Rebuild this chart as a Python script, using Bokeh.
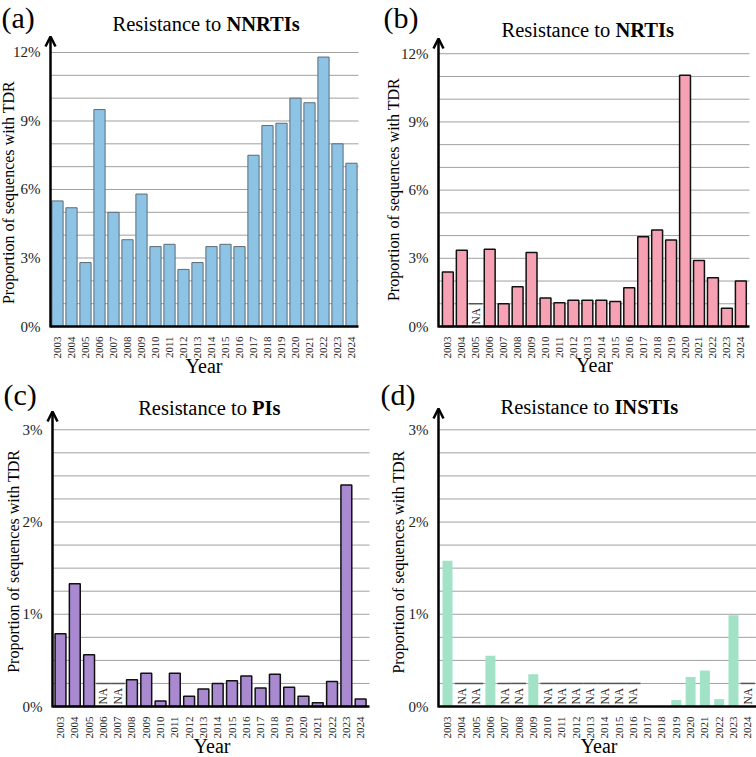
import math
from bokeh.plotting import figure
from bokeh.models import (Range1d, FixedTicker, PrintfTickFormatter, Label, Arrow,
                          OpenHead)
from bokeh.layouts import gridplot
from bokeh.core.properties import value
from bokeh.embed import file_html
from bokeh.resources import INLINE

NA = float("nan")
years = list(range(2003, 2025))
nnrti = [5.5, 5.2, 2.8, 9.5, 5.0, 3.8, 5.8, 3.5, 3.6, 2.5, 2.8, 3.5, 3.6, 3.5,
         7.5, 8.8, 8.9, 10.0, 9.8, 11.8, 8.0, 7.15]
nrti = [2.4, 3.35, NA, 3.4, 1.0, 1.75, 3.25, 1.25, 1.05, 1.15, 1.15, 1.15, 1.1, 1.7,
        3.95, 4.25, 3.8, 11.05, 2.9, 2.15, 0.8, 2.0]
pis = [0.79, 1.33, 0.56, NA, NA, 0.29, 0.36, 0.06, 0.36, 0.11, 0.19, 0.25, 0.28, 0.33,
       0.2, 0.35, 0.21, 0.11, 0.04, 0.27, 2.4, 0.08]
instis = [1.58, NA, NA, 0.55, NA, NA, 0.35, NA, NA, NA, NA, NA, NA, NA,
          0.0, 0.0, 0.07, 0.32, 0.39, 0.08, 0.99, NA]

ticks_a = [0, 3, 6, 9, 12]
minor_a = list(range(1, 13))
ticks_c = [0, 1, 2, 3]
minor_c = [0.25, 0.5, 0.75, 1, 1.25, 1.5, 1.75, 2, 2.25, 2.5, 2.75, 3]

SERIF = "Liberation Serif"
TITLE_SIZE = 20.5
SHIFT = 0.28  # baseline correction (fraction of font size)

W_NORMAL = {"R": .667, "e": .444, "s": .389, "i": .278, "t": .278, "a": .444,
            "n": .5, "c": .444, "o": .5, " ": .25}


def twidth(s, size):
    return sum(W_NORMAL.get(ch, .5) for ch in s) * size


def panel(W, H, FL, FR, FT, FB, xr, yr, vals, ticks, minor, na_h, fill, line, lw, bw,
          letter, title_bold, letter_pos, title_pos, ylab_pos, year_pos, tick_font):
    def dx(px):
        return xr[0] + (px - FL) / (FR - FL) * (xr[1] - xr[0])

    def dy(py):
        return yr[0] + (FB - py) / (FB - FT) * (yr[1] - yr[0])

    p = figure(width=W, height=H, x_range=Range1d(dx(0), dx(W)),
               y_range=Range1d(dy(H), dy(0)),
               min_border_left=0, min_border_right=0, min_border_top=0,
               min_border_bottom=0, toolbar_location=None, tools="",
               output_backend="svg")
    p.outline_line_color = None
    p.background_fill_color = "white"
    p.xgrid.visible = False
    p.ygrid.visible = False

    yax = p.yaxis[0]
    yax.fixed_location = xr[0]
    yax.bounds = (0, yr[1])
    yax.ticker = FixedTicker(ticks=ticks)
    yax.formatter = PrintfTickFormatter(format="%d%%")
    yax.axis_line_color = None
    yax.major_tick_line_color = None
    yax.minor_tick_line_color = None
    yax.major_label_standoff = 4
    yax.major_label_text_font = SERIF
    yax.major_label_text_font_size = "15px"
    yax.major_label_text_color = "#222222"

    xax = p.xaxis[0]
    xax.fixed_location = 0
    xax.bounds = (xr[0], xr[1])
    xax.ticker = FixedTicker(ticks=years)
    xax.formatter = PrintfTickFormatter(format="%d")
    xax.axis_line_color = "black"
    xax.axis_line_width = 2.5
    xax.major_tick_line_color = None
    xax.minor_tick_line_color = None
    xax.major_label_orientation = math.pi / 2
    xax.major_label_standoff = 4
    xax.major_label_text_font = SERIF
    xax.major_label_text_font_size = tick_font
    xax.major_label_text_color = "#222222"

    p.segment(x0=[xr[0]] * len(minor), x1=[xr[1]] * len(minor), y0=minor, y1=minor,
              line_color="#a0a0a0", line_width=1)

    xs = [y for y, v in zip(years, vals) if not math.isnan(v)]
    vs = [v for v in vals if not math.isnan(v)]
    nas = [y for y, v in zip(years, vals) if math.isnan(v)]

    p.vbar(x=xs, top=vs, bottom=0, width=bw, fill_color=fill,
           line_color=line, line_width=lw)
    if nas:
        p.vbar(x=nas, top=[na_h] * len(nas), bottom=0, width=1.0, fill_color="white",
               line_color=None)
        p.segment(x0=[y - 0.5 for y in nas], x1=[y + 0.5 for y in nas],
                  y0=[na_h] * len(nas), y1=[na_h] * len(nas),
                  line_color="#555555", line_width=1.5)
        p.text(x=nas, y=[dy(FB - 2)] * len(nas), text=["NA"] * len(nas),
               angle=math.pi / 2, text_align="left", text_baseline="middle",
               text_font=value(SERIF), text_font_size="11.5px", text_color="#222222")

    p.add_layout(Arrow(end=OpenHead(size=10, line_width=2.5, line_color="black"),
                       x_start=xr[0], y_start=dy(FB + 1), x_end=xr[0], y_end=yr[1],
                       line_width=2.5, line_color="black"))

    lx, ly = letter_pos
    p.add_layout(Label(x=dx(lx), y=dy(ly - SHIFT * 30), text=letter, text_font=SERIF,
                       text_font_size="30px", text_baseline="alphabetic",
                       text_align="left", text_color="black"))
    tx, ty = title_pos
    normal = "Resistance to"
    ty2 = ty - SHIFT * TITLE_SIZE
    p.add_layout(Label(x=dx(tx), y=dy(ty2), text=normal, text_font=SERIF,
                       text_font_size=f"{TITLE_SIZE}px", text_baseline="alphabetic",
                       text_align="left", text_color="black"))
    p.add_layout(Label(x=dx(tx + twidth(normal + " ", TITLE_SIZE)), y=dy(ty2),
                       text=title_bold, text_font=SERIF,
                       text_font_size=f"{TITLE_SIZE}px", text_font_style="bold",
                       text_baseline="alphabetic", text_align="left",
                       text_color="black"))
    yx, yy = ylab_pos
    p.add_layout(Label(x=dx(yx - SHIFT * 16), y=dy(yy),
                       text="Proportion of sequences with TDR",
                       text_font=SERIF, text_font_size="16px", angle=math.pi / 2,
                       text_baseline="alphabetic", text_align="center",
                       text_color="black"))
    ex, ey = year_pos
    p.add_layout(Label(x=dx(ex), y=dy(ey - SHIFT * 20), text="Year", text_font=SERIF,
                       text_font_size="20px", text_baseline="alphabetic",
                       text_align="center", text_color="black"))
    return p


pa = panel(378, 378, 50, 358, 36, 326, (2002.5, 2024.5), (0, 12.70), nnrti,
           ticks_a, minor_a, 1.0, "#8DC4E6", "#5f6a73", 1, 0.8,
           "(a)", "NNRTIs", (1, 25), (112, 29), (12, 192), (203.5, 371), "11px")
pb = panel(378, 378, 60, 371, 38, 326, (2002.33, 2024.62), (0, 12.67), nrti,
           ticks_a, minor_a, 1.0, "#F7A2B4", "#111111", 1.5, 0.78,
           "(b)", "NRTIs", (5, 25), (123, 35.7), (19.7, 189), (216, 370), "11px")
pc = panel(378, 379, 52, 369, 33, 328, (2002.44, 2024.62), (0, 3.198), pis,
           ticks_c, minor_c, 0.25, "#A98AD1", "#111111", 1.5, 0.76,
           "(c)", "PIs", (3, 24), (137.7, 35.3), (17.5, 182.8), (211.5, 373), "11px")
pd = panel(378, 379, 60, 378, 30, 328, (2002.37, 2024.61), (0, 3.231), instis,
           ticks_c, minor_c, 0.25, "#A2E3C8", None, 0, 0.7,
           "(d)", "INSTIs", (2, 24), (122, 34.3), (24.5, 183.5), (220.5, 373), "11px")

grid = gridplot([[pa, pb], [pc, pd]], toolbar_location=None)

open("out.html", "w").write(file_html(grid, INLINE))
